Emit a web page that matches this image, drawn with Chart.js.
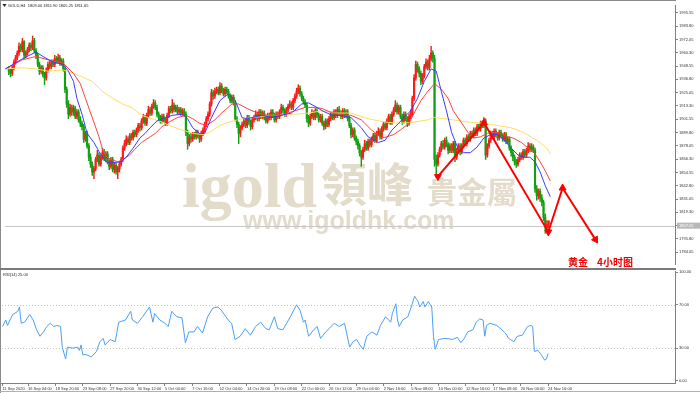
<!DOCTYPE html>
<html>
<head>
<meta charset="utf-8">
<script src="https://cdn.jsdelivr.net/npm/chart.js@4.4.0/dist/chart.umd.min.js"></script>
<style>
  html, body { margin: 0; padding: 0; background: #fff; }
  #wrap { position: relative; width: 700px; height: 393px; overflow: hidden; }
  canvas { position: absolute; left: 0; }
  #main { top: 0; }
  #rsi { top: 270px; }
  .ln { position: absolute; background: #8a8a8a; }
</style>
</head>
<body>
<div id="wrap">
  <canvas id="main" width="700" height="269"></canvas>
  <canvas id="rsi" width="700" height="123"></canvas>
  <div class="ln" style="left:0;top:0;width:676px;height:1px"></div>
  <div class="ln" style="left:0;top:0;width:1px;height:393px"></div>
  <div class="ln" style="left:0;top:268px;width:676px;height:2px;background:#7a7a7a"></div>
  <div class="ln" style="left:0;top:383px;width:2px;height:1px"></div>
  <div class="ln" style="left:0;top:391px;width:700px;height:1px;background:#b0b0b0"></div>
</div>
<script>
// GOLD H4 candles, one value per bar (bar 0 = 11 Sep 2020)
const firstOpen = 1946;
const closes = [
  1944,1942,1947,1952,1956,1960,1966,1963,1970,1958,1960,
  1963,1967,1965,1971,1962,1958,1950,1944,1947,1941,
  1938,1945,1950,1948,1952,1950,1955,1953,1956,1951,1953,
  1946,1928,1915,1906,1912,1908,1911,1904,1908,1901,1898,1895,
  1884,1889,1878,1868,1862,1855,1858,1866,1870,1862,1868,1872,
  1867,1871,1864,1860,1866,1857,1861,1855,1858,1862,1866,1876,1880,
  1884,1881,1887,1885,1890,1888,1892,1896,1894,1900,1903,1898,1905,
  1910,1907,1913,1916,1912,1906,1903,1900,1904,1901,1898,1905,
  1911,1909,1914,1910,1912,1908,1910,1907,1909,1906,1890,1880,1886,
  1884,1888,1886,1890,1887,1884,1889,1892,1897,1902,1906,1915,1925,1922,
  1926,1928,1925,1931,1927,1924,1928,1926,1922,1918,1921,1916,
  1902,1897,1889,1894,1897,1900,1896,1903,1899,1895,1901,1903,
  1906,1902,1908,1904,1907,1903,1900,1905,1903,1908,1905,1901,1906,1904,
  1908,1912,1909,1906,1910,1913,1915,1912,1918,1922,1926,1929,
  1924,1920,1917,1914,1902,1898,1904,1907,1903,1909,1905,1901,1904,
  1898,1895,1900,1897,1902,1906,1903,1908,1905,1910,
  1907,1904,1909,1905,1908,1902,1896,1888,1892,1885,1882,
  1878,1872,1868,1875,1880,1876,1882,1879,1884,1887,1883,1889,1891,1886,1893,
  1897,1894,1900,1904,1899,1906,1910,1914,1908,1912,1904,1900,1906,1902,1898,1904,1907,
  1920,1938,1950,1946,1942,1935,1940,1948,1952,1947,1955,1960,1955,
  1866,1862,1870,1875,1880,1877,1883,1879,1874,1878,1874,1880,1868,1874,1878,1873,
  1878,1883,1880,1886,1884,1889,1887,1892,1889,1895,1893,1898,1896,1900,1870,
  1878,1883,1889,1886,1891,1888,1885,1890,1887,1884,1888,1882,1884,1876,1872,1868,1864,1862,
  1866,1870,1868,1873,1870,1874,1878,1875,1877,1874,
  1840,1834,1838,1832,1828,1815,1806,1809,1811.65
];
const highs = [
  1948,1946,1949,1954,1958,1962,1969,1968,1973,1971,1962,
  1965,1969,1969,1975,1973,1964,1960,1952,1949,1949,
  1943,1947,1952,1953,1954,1954,1958,1957,1959,1958,1955,
  1955,1948,1930,1918,1915,1914,1914,1913,1910,1910,1904,1900,
  1897,1891,1891,1880,1871,1864,1860,1868,1874,1872,1870,1876,
  1875,1873,1873,1866,1868,1868,1863,1863,1860,1864,1868,1878,1883,
  1887,1886,1889,1889,1892,1892,1894,1898,1898,1902,1906,1905,1907,
  1913,1912,1915,1919,1918,1914,1908,1905,1906,1906,1903,1907,
  1913,1913,1919,1916,1914,1914,1912,1912,1911,1911,1908,1892,1888,
  1889,1890,1890,1892,1892,1889,1891,1894,1899,1904,1908,1917,1928,1927,
  1929,1930,1930,1934,1933,1929,1930,1930,1928,1924,1923,1923,
  1918,1904,1899,1896,1899,1902,1902,1905,1905,1901,1903,1905,
  1909,1908,1910,1910,1909,1909,1905,1907,1907,1910,1910,1907,1908,1908,
  1910,1915,1914,1911,1912,1915,1918,1917,1920,1924,1929,1932,
  1931,1926,1922,1919,1916,1905,1906,1910,1909,1911,1911,1907,1906,
  1906,1900,1902,1902,1904,1908,1908,1910,1910,1912,
  1913,1909,1911,1911,1910,1910,1904,1898,1894,1894,1887,
  1884,1880,1874,1877,1883,1882,1884,1884,1886,1889,1889,1891,1894,1893,1895,
  1899,1899,1902,1906,1906,1908,1912,1918,1916,1914,1914,1906,1908,1908,1904,1906,1910,
  1922,1941,1953,1952,1948,1944,1942,1950,1955,1954,1958,1966,1962,
  1958,1870,1872,1877,1882,1883,1885,1886,1881,1880,1880,1882,1882,1876,1880,1880,
  1880,1885,1885,1888,1888,1891,1891,1894,1894,1897,1897,1900,1900,1903,1902,
  1880,1885,1891,1891,1893,1893,1890,1892,1892,1889,1890,1890,1886,1886,1878,1874,1870,1866,
  1868,1872,1872,1875,1875,1876,1881,1880,1880,1879,
  1876,1843,1840,1840,1835,1830,1818,1812,1811.9
];
const lows = [
  1941,1939,1940,1945,1950,1954,1958,1961,1961,1955,1956,
  1958,1961,1962,1963,1960,1955,1948,1941,1942,1939,
  1932,1936,1943,1946,1946,1948,1948,1951,1951,1949,1949,
  1944,1925,1912,1902,1904,1905,1905,1902,1902,1899,1895,1892,
  1881,1882,1876,1865,1859,1852,1849,1856,1864,1860,1860,1866,
  1865,1864,1862,1857,1858,1855,1854,1853,1849,1855,1860,1864,1874,
  1878,1879,1879,1883,1883,1886,1886,1890,1891,1892,1898,1896,1896,
  1903,1905,1905,1911,1910,1904,1901,1898,1898,1899,1896,1896,
  1903,1907,1907,1908,1908,1906,1906,1905,1905,1904,1887,1875,1878,
  1881,1882,1884,1884,1885,1881,1882,1887,1890,1895,1900,1904,1913,1919,
  1920,1924,1923,1923,1925,1922,1922,1924,1920,1916,1916,1914,
  1900,1894,1880,1886,1892,1895,1894,1894,1897,1892,1893,1899,
  1901,1900,1900,1902,1902,1901,1898,1898,1901,1901,1903,1899,1899,1902,
  1902,1906,1907,1904,1904,1908,1911,1910,1910,1916,1920,1924,
  1922,1918,1915,1912,1899,1895,1896,1902,1901,1901,1903,1899,1899,
  1896,1892,1893,1895,1895,1900,1901,1901,1903,1903,
  1905,1902,1902,1903,1903,1900,1894,1885,1886,1883,1879,
  1875,1869,1860,1866,1873,1874,1874,1877,1877,1882,1881,1881,1887,1884,1884,
  1891,1892,1892,1898,1897,1897,1904,1908,1906,1906,1902,1897,1898,1900,1895,1896,1902,
  1905,1918,1936,1943,1939,1932,1933,1938,1946,1945,1945,1953,1952,
  1860,1850,1860,1868,1873,1875,1875,1877,1871,1872,1872,1872,1864,1866,1872,1870,
  1871,1876,1878,1878,1882,1882,1885,1885,1887,1887,1891,1891,1894,1894,1866,
  1868,1876,1881,1884,1884,1886,1883,1883,1885,1882,1882,1880,1880,1874,1869,1865,1861,1859,
  1860,1864,1866,1866,1868,1868,1872,1873,1873,1872,
  1837,1830,1831,1829,1825,1812,1801,1804,1805.25
];

// moving averages (bar index -> price)
const maFastIdx = [-2,7,16,20,26,32,35,38,40,43,46,50,53,57,60,66,69,73,77,80,83,87,92,96,102,105,108,112,115,119,124,129,133,137,140,149,154,160,166,172,176,181,184,190,195,201,207,211,217,221,225,229,232,236,240,244,248,251,254,257,260,264,267,271,275,279,283,287,291,295,299,302,306,309,312,315,318];
const maFastVal = [1946,1954,1961,1957,1952,1950,1944,1935,1920,1906,1889,1881,1873,1864,1863,1864,1868,1876,1885,1889,1894,1900,1903,1905,1906,1902,1894,1889,1889,1903,1918,1924,1918,1903,1902,1905,1903,1905,1907,1915,1916,1912,1909,1905,1905,1903,1894,1886,1881,1883,1892,1898,1903,1909,1920,1935,1946,1944,1926,1909,1890,1875,1872,1872,1877,1885,1888,1888,1883,1876,1870,1868,1868,1864,1855,1843,1833];
const maMidIdx = [-2,8,16,23,32,38,42,45,49,53,55,57,60,64,67,71,74,78,83,86,90,94,99,104,108,112,116,121,125,131,135,140,146,152,160,168,174,180,184,190,197,201,207,213,219,222,226,230,235,238,242,246,250,254,258,261,266,270,273,277,281,285,289,293,296,301,305,308,312,315,318];
const maMidVal = [1946,1954,1957,1954,1951,1942,1933,1920,1903,1886,1875,1869,1866,1864,1866,1870,1875,1881,1886,1889,1895,1899,1903,1905,1902,1898,1896,1901,1907,1915,1915,1911,1907,1905,1905,1909,1912,1912,1911,1907,1905,1905,1901,1892,1885,1886,1888,1892,1898,1907,1918,1926,1933,1928,1920,1909,1898,1889,1885,1886,1889,1890,1889,1886,1885,1881,1876,1873,1864,1856,1847];
const maSlowIdx = [-2,8,16,23,32,38,43,49,55,61,67,73,78,84,90,96,102,108,114,118,124,129,137,144,153,160,168,176,184,191,201,211,221,230,238,246,250,256,261,270,279,287,295,302,310,316,318];
const maSlowVal = [1946,1947,1946,1944,1945,1942,1939,1935,1926,1920,1915,1911,1905,1902,1899,1895,1892,1889,1888,1890,1896,1899,1902,1903,1905,1905,1906,1907,1909,1907,1907,1902,1899,1898,1899,1901,1903,1902,1901,1899,1898,1896,1894,1890,1883,1876,1871];

// RSI(14)
const rsiIdx = [-2,0,1,4,7,8,9,11,14,16,18,20,22,24,26,28,30,32,33,35,36,39,42,43,44,45,47,50,53,55,57,58,61,64,66,70,73,74,77,80,84,86,87,90,93,95,97,100,103,105,107,110,112,115,118,121,124,126,130,132,134,137,140,143,146,149,152,154,157,159,162,166,170,172,174,175,177,180,182,184,187,189,192,195,198,201,203,205,207,209,211,214,217,219,222,225,226,228,229,230,232,235,237,239,241,242,244,245,247,249,250,251,253,256,258,261,264,266,268,270,273,275,277,279,280,281,283,287,290,292,294,297,299,302,305,307,308,309,311,313,315,316,317];
const rsiVal = [50,56,51,61,64,68,53,54,61,56,47,41,45,50,53,50,51,50,31,20,31,30,31,28,33,24,24,22,27,36,39,33,38,36,54,56,64,56,53,59,68,54,62,56,53,50,64,59,58,35,45,45,50,44,59,67,68,65,56,53,38,41,48,42,50,54,48,47,59,48,47,58,70,65,54,56,41,47,50,39,45,48,53,50,53,31,36,38,33,29,41,45,42,51,59,54,62,71,56,50,56,59,68,78,73,68,73,68,73,68,41,29,38,39,39,38,40,35,39,45,47,54,57,56,41,51,53,51,47,44,39,36,41,42,50,51,50,27,28,24,19,20,25];

// hand-drawn red zigzag on the chart (bar index -> price)
const arrowIdx = [252, 279, 316.8, 325.2, 344.5];
const arrowPrice = [1851, 1898.4, 1802, 1840.8, 1795.2];
const arrowTurn = [180, 0, 180, 0, 148];

const priceTicks = [1995.55,1983.80,1972.05,1960.30,1948.55,1936.80,1925.05,1913.30,1901.55,1889.80,1878.05,1866.30,1854.55,1842.80,1831.05,1819.30,1807.55,1795.80,1784.05];
const rsiTicks = [100, 70, 30, 0];
const rsiLevels = [70, 30];
const timeIdx = [-2,13,29,45,61,77,93,109,125,141,157,173,189,205,221,237,253,269,285,301,317];
const timeLabels = ["11 Sep 2020","16 Sep 04:00","18 Sep 20:00","23 Sep 08:00","27 Sep 20:00","30 Sep 12:00","5 Oct 00:00","7 Oct 16:00","12 Oct 04:00","14 Oct 20:00","19 Oct 08:00","22 Oct 00:00","26 Oct 12:00","29 Oct 04:00","2 Nov 16:00","5 Nov 08:00","10 Nov 00:00","12 Nov 16:00","17 Nov 08:00","20 Nov 00:00","24 Nov 16:00"];
const bidPrice = 1807.55;

const xMin = -2.22, xMax = 391.2;
const pMin = 1773.7, pMax = 2002.43;
const rMin = -2.1, rMax = 101.2;

const upColor = '#ff1a1a';
const downColor = '#12a012';
const wmColor = '#e3dccb';

Chart.defaults.font.family = '"Liberation Sans", Arial, sans-serif';

const opens = closes.map((c, i) => i === 0 ? firstOpen : closes[i - 1]);
const candleColors = closes.map((c, i) => c >= opens[i] ? upColor : downColor);
const wicks = closes.map((c, i) => ({ x: i, y: [lows[i], highs[i]] }));
const bodies = closes.map((c, i) => ({ x: i, y: [opens[i], c] }));
const pts = (idx, val) => idx.map((x, k) => ({ x: x, y: val[k] }));

const last = closes.length - 1;
const headerText = 'GOLD,H4  ' + opens[last].toFixed(2) + ' ' + highs[last].toFixed(2) + ' ' + lows[last].toFixed(2) + ' ' + closes[last].toFixed(2);

const tinyFont = { size: 4, family: '"Liberation Sans", Arial, sans-serif' };

const mainDecor = {
  id: 'mainDecor',
  beforeDraw(chart) {
    const ctx = chart.ctx;
    ctx.save();
    ctx.fillStyle = wmColor;
    ctx.textBaseline = 'alphabetic';
    ctx.font = 'bold 64px "Liberation Serif"';
    ctx.fillText('igold', 182, 207);
    ctx.font = 'bold 46px "Noto Sans CJK TC"';
    ctx.fillText('領峰', 321, 201);
    ctx.font = 'bold 30px "Noto Sans CJK TC"';
    ctx.fillText('貴金屬', 427, 203);
    ctx.font = 'bold 25px "Liberation Sans"';
    ctx.fillText('www.igoldhk.com', 243, 229);
    ctx.restore();
  },
  beforeDatasetsDraw(chart) {
    const ctx = chart.ctx;
    const a = chart.chartArea;
    const y = Math.round(chart.scales.y.getPixelForValue(bidPrice)) + 0.5;
    ctx.save();
    ctx.strokeStyle = '#c8c8c8';
    ctx.lineWidth = 1;
    ctx.beginPath();
    ctx.moveTo(a.left, y);
    ctx.lineTo(a.right, y);
    ctx.stroke();
    ctx.restore();
  },
  afterDraw(chart) {
    const ctx = chart.ctx;
    const y = chart.scales.y.getPixelForValue(bidPrice);
    ctx.save();
    ctx.fillStyle = '#b8b8b8';
    ctx.fillRect(677, y - 3, 23, 6);
    ctx.fillStyle = '#ffffff';
    ctx.font = '4px "Liberation Sans"';
    ctx.textBaseline = 'middle';
    ctx.fillText(bidPrice.toFixed(2), 679, y);
    // header
    ctx.fillStyle = '#222';
    ctx.beginPath();
    ctx.moveTo(2.5, 4); ctx.lineTo(6.5, 4); ctx.lineTo(4.5, 7);
    ctx.fill();
    ctx.font = '4px "Liberation Sans"';
    ctx.fillText(headerText, 8, 6);
    // caption
    ctx.fillStyle = '#ee0000';
    ctx.textBaseline = 'alphabetic';
    ctx.font = 'bold 10px "Noto Sans CJK SC"';
    ctx.fillText('黄金', 568, 266);
    ctx.fillText('4小时图', 597, 266);
    ctx.restore();
  }
};

new Chart(document.getElementById('main'), {
  type: 'bar',
  data: {
    datasets: [
      {
        type: 'line', data: pts(arrowIdx, arrowPrice), borderColor: '#ff0000', borderWidth: 2,
        pointStyle: 'triangle', pointRadius: 4, pointRotation: arrowTurn,
        pointBackgroundColor: '#ff0000', pointBorderColor: '#ff0000', pointBorderWidth: 1, order: 0
      },
      { type: 'line', data: pts(maFastIdx, maFastVal), borderColor: '#3b3bff', borderWidth: 1, pointRadius: 0, order: 1 },
      { type: 'line', data: pts(maMidIdx, maMidVal), borderColor: '#ff4040', borderWidth: 1, pointRadius: 0, order: 1 },
      { type: 'line', data: pts(maSlowIdx, maSlowVal), borderColor: '#ffdd60', borderWidth: 1, pointRadius: 0, order: 1 },
      { data: bodies, backgroundColor: candleColors, barThickness: 1.5, minBarLength: 1, grouped: false, order: 2 },
      { data: wicks, backgroundColor: candleColors, barThickness: 0.8, grouped: false, order: 3 }
    ]
  },
  options: {
    responsive: false, animation: false, events: [], devicePixelRatio: 1,
    layout: { padding: { left: 2, top: 2, right: 0, bottom: 1 } },
    plugins: { legend: { display: false }, tooltip: { enabled: false } },
    scales: {
      x: { type: 'linear', min: xMin, max: xMax, offset: false, display: false },
      y: {
        position: 'right', min: pMin, max: pMax, bounds: 'data',
        afterBuildTicks: s => { s.ticks = priceTicks.map(v => ({ value: v })); },
        afterFit: s => { s.width = 25; s.paddingTop = 0; s.paddingBottom = 0; },
        grid: { drawOnChartArea: false, tickLength: 3, color: '#808080' },
        border: { color: '#808080' },
        ticks: { autoSkip: false, font: tinyFont, color: '#333', padding: 1, callback: v => v.toFixed(2) }
      }
    }
  },
  plugins: [mainDecor]
});

const rsiDecor = {
  id: 'rsiDecor',
  beforeDatasetsDraw(chart) {
    const ctx = chart.ctx;
    const a = chart.chartArea;
    ctx.save();
    ctx.strokeStyle = '#c4c4c4';
    ctx.lineWidth = 1;
    ctx.setLineDash([1, 2]);
    rsiLevels.forEach(v => {
      const y = Math.round(chart.scales.y.getPixelForValue(v)) + 0.5;
      ctx.beginPath();
      ctx.moveTo(a.left, y);
      ctx.lineTo(a.right, y);
      ctx.stroke();
    });
    ctx.restore();
  },
  afterDraw(chart) {
    const ctx = chart.ctx;
    ctx.save();
    ctx.fillStyle = '#222';
    ctx.font = '4px "Liberation Sans"';
    ctx.textBaseline = 'middle';
    ctx.fillText('RSI(14) ' + rsiVal[rsiVal.length - 1].toFixed(2), 3, 4.5);
    ctx.restore();
  }
};

new Chart(document.getElementById('rsi'), {
  type: 'line',
  data: {
    datasets: [
      { data: pts(rsiIdx, rsiVal), borderColor: '#4a9ff5', borderWidth: 1, pointRadius: 0 }
    ]
  },
  options: {
    responsive: false, animation: false, events: [], devicePixelRatio: 1,
    layout: { padding: { left: 2, top: 1, right: 0, bottom: 0 } },
    plugins: { legend: { display: false }, tooltip: { enabled: false } },
    scales: {
      x: {
        type: 'linear', min: xMin, max: xMax, offset: false, bounds: 'data',
        afterBuildTicks: s => { s.ticks = timeIdx.map(v => ({ value: v })); },
        afterFit: s => { s.height = 10; s.paddingLeft = 0; s.paddingRight = 0; },
        grid: { drawOnChartArea: false, tickLength: 3, color: '#808080' },
        border: { color: '#808080' },
        ticks: { autoSkip: false, maxRotation: 0, align: 'start', font: tinyFont, color: '#333', padding: 0,
                 callback: (v, k) => timeLabels[k] }
      },
      y: {
        position: 'right', min: rMin, max: rMax, bounds: 'data',
        afterBuildTicks: s => { s.ticks = rsiTicks.map(v => ({ value: v })); },
        afterFit: s => { s.width = 25; s.paddingTop = 0; s.paddingBottom = 0; },
        grid: { drawOnChartArea: false, tickLength: 3, color: '#808080' },
        border: { color: '#808080' },
        ticks: { autoSkip: false, font: tinyFont, color: '#333', padding: 1, callback: v => v.toFixed(2) }
      }
    }
  },
  plugins: [rsiDecor]
});
</script>
</body>
</html>
